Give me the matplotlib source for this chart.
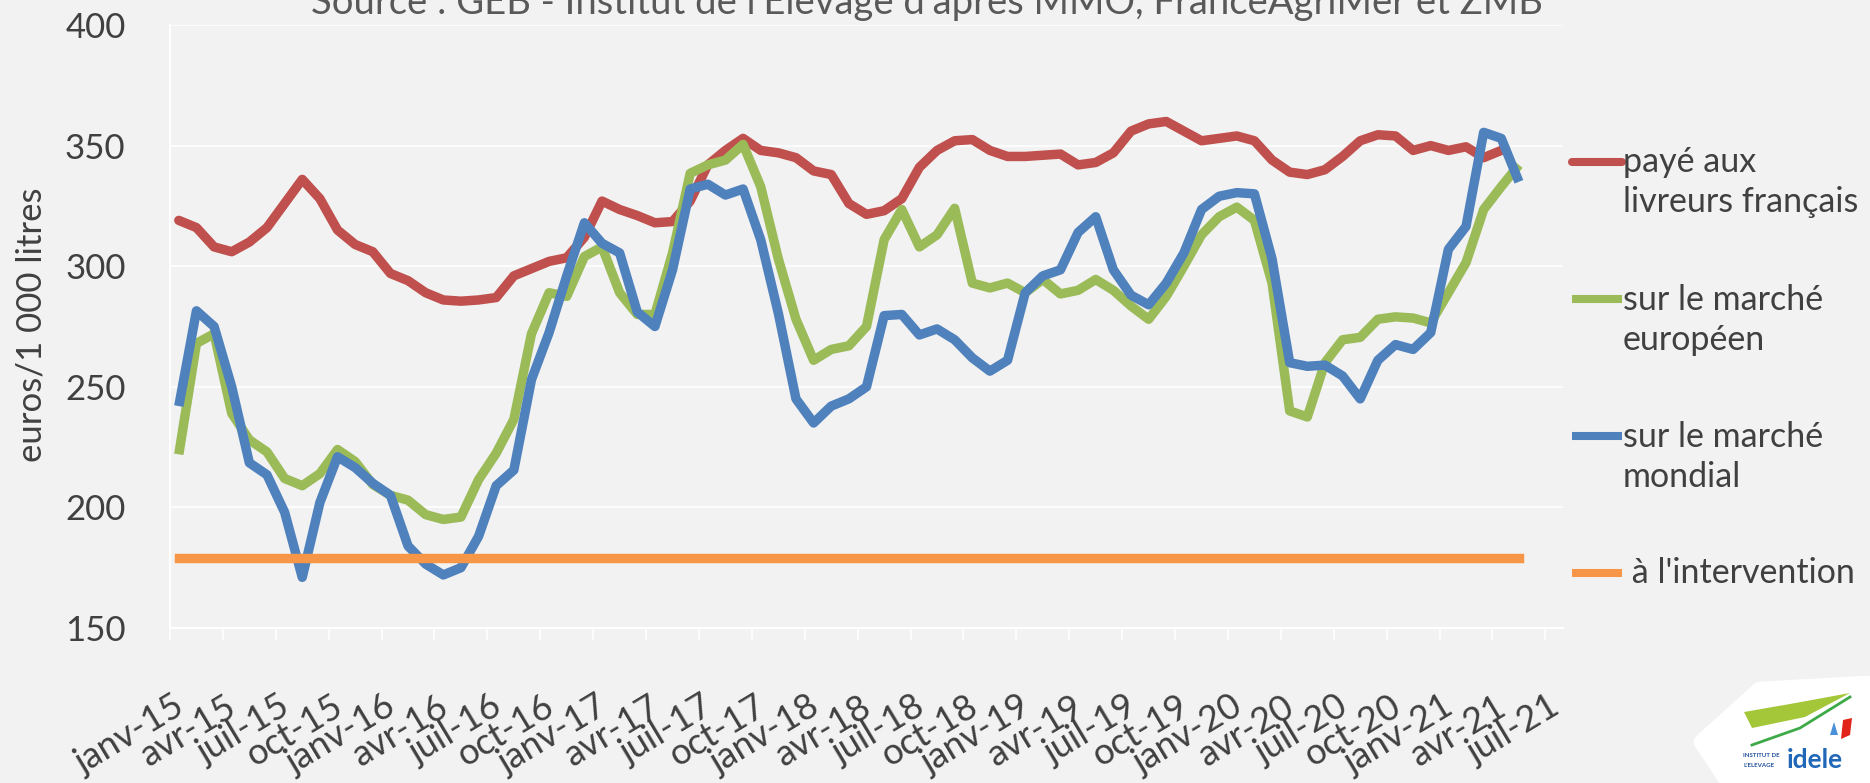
import numpy as np
import matplotlib
matplotlib.use("Agg")
import matplotlib.pyplot as plt
from matplotlib.lines import Line2D
from matplotlib.patches import Polygon
from matplotlib.transforms import ScaledTranslation

plt.rcParams["font.family"] = ["Lato", "DejaVu Sans"]

# monthly prices, euros / 1 000 litres, janv-15 .. mai-21
paye_livreurs = [319, 316, 308, 306, 310, 316, 326, 336, 328, 315, 309, 306, 297,
                 294, 289, 286, 285.5, 286, 287, 296, 299, 302, 303.5, 312, 327, 323.5,
                 321, 318, 318.5, 327, 342, 348, 353, 348, 347, 345, 339.5, 338, 326,
                 321.5, 323, 328, 341, 348, 352, 352.5, 348, 345.5, 345.5, 346, 346.5, 342,
                 343, 347, 356, 359, 360, 356, 352, 353, 354, 352, 344, 339, 338,
                 340, 345.5, 352, 354.5, 354, 348, 350, 348, 349.5, 345, 348, np.nan]
marche_europeen = [222, 268, 272, 239, 228, 223, 212, 209, 214, 224, 219, 209.5, 205,
                   203, 197, 195, 196, 211.5, 222.5, 236.5, 272, 289, 287.5, 304, 308, 289,
                   280, 280, 305.5, 338.5, 342, 344, 350.5, 333, 303, 278, 261, 265.5, 267,
                   275, 311, 323.5, 308, 313, 324, 293, 291, 293, 289, 294.5, 288.5, 290,
                   294.5, 290, 283.5, 278, 287.5, 300, 313, 320.5, 324.5, 319, 293, 240, 237.5,
                   260, 269.5, 270.5, 278, 279, 278.5, 276.5, 289, 301.5, 323.5, 333, 342]
marche_mondial = [242, 281.5, 275, 250, 218.5, 213.5, 198, 171, 202, 221, 216.5, 210, 205,
                  184, 176.5, 172, 175, 188, 209, 215.5, 253, 272.5, 296, 318, 309.5, 305.5,
                  281, 275, 298.5, 332, 334, 329.5, 332, 311, 280.5, 245, 235, 242, 245,
                  250, 279.5, 280, 271.5, 274, 269.5, 262, 256.5, 261, 289, 296, 298.5, 314,
                  320.5, 298.5, 288, 284, 293, 305.5, 323.5, 329, 330.5, 330, 303, 260, 258.5,
                  259, 254.5, 245, 261, 267.5, 265.5, 272.5, 307, 316.5, 355.5, 353, 335]
intervention = [179] * 77

tick_labels = ["janv-15", "avr-15", "juil-15", "oct-15", "janv-16", "avr-16", "juil-16",
               "oct-16", "janv-17", "avr-17", "juil-17", "oct-17", "janv-18", "avr-18",
               "juil-18", "oct-18", "janv-19", "avr-19", "juil-19", "oct-19", "janv-20",
               "avr-20", "juil-20", "oct-20", "janv-21", "avr-21", "juil-21"]
legend_labels = [["payé aux", "livreurs français"], ["sur le marché", "européen"],
                 ["sur le marché", "mondial"], [" à l'intervention"]]
source = "Source : GEB - Institut de l'Elevage d'après MMO, FranceAgriMer et ZMB"

W, H = 1870, 783
BG = "#F2F2F2"
TXT = "#404040"
colors = ["#C0504D", "#9BBB59", "#4F81BD", "#F79646"]


def fx(px):
    return px / W


def fy(py):
    return 1 - py / H


fig = plt.figure(figsize=(W / 100, H / 100), dpi=100, facecolor=BG)
ax = fig.add_axes([fx(170), fy(628), (1563 - 170) / W, (628 - 25) / H])
ax.set_facecolor(BG)

x = np.arange(len(marche_mondial)) + 0.5
lw = 6.8
ax.plot(x, paye_livreurs, color=colors[0], lw=lw, solid_capstyle="round", solid_joinstyle="round")
ax.plot(x, marche_europeen, color=colors[1], lw=lw, solid_capstyle="butt", solid_joinstyle="round")
ax.plot(x, marche_mondial, color=colors[2], lw=lw, solid_capstyle="butt", solid_joinstyle="round")
ax.plot(x, intervention, color=colors[3], lw=lw, solid_capstyle="projecting")

ax.set_xlim(0, 79)
ax.set_ylim(150, 400)
ax.set_yticks(np.arange(150, 401, 50))
ax.yaxis.grid(True, color="white", lw=1.2)
ax.set_axisbelow(True)
for s in ["top", "right"]:
    ax.spines[s].set_visible(False)
for s in ["left", "bottom"]:
    ax.spines[s].set_color("white")
    ax.spines[s].set_linewidth(1.5)

ax.tick_params(axis="y", length=0, pad=32, labelsize=25, labelcolor=TXT)
ax.tick_params(axis="x", length=8.6, width=1.2, color="white", direction="out",
               pad=46, labelsize=26, labelcolor=TXT)
ax.set_xticks(np.arange(0, 79, 3))
ax.set_xticklabels(tick_labels, rotation=31, ha="right", va="center", rotation_mode="anchor")
shift = ScaledTranslation(11 / 100, 0, fig.dpi_scale_trans)
for lbl in ax.get_xticklabels():
    lbl.set_transform(lbl.get_transform() + shift)

fig.text(fx(32), fy(325), "euros/1 000 litres", rotation=90, ha="center", va="center",
         fontsize=25, color=TXT)
fig.text(fx(927), fy(14), source, ha="center", va="baseline", fontsize=27.5, color="#595959")

# legend, drawn by hand so the key sits on the first text line
handle_y = [162, 299, 436, 573]
base_y = [[172, 212], [310, 350], [447, 487], [583]]
for c, y0, lines, bases in zip(colors, handle_y, legend_labels, base_y):
    cap = "round" if c == colors[0] else "butt"
    fig.add_artist(Line2D([fx(1572), fx(1622)], [fy(y0), fy(y0)], color=c, lw=5.8,
                          solid_capstyle=cap))
    for txt, b in zip(lines, bases):
        fig.text(fx(1623), fy(b), txt, ha="left", va="baseline", fontsize=24.5, color=TXT)

# idele logo, rough
pts = [(1702, 742), (1760, 690), (1868, 684), (1868, 781), (1728, 781)]
fig.add_artist(Polygon([(fx(a), fy(b)) for a, b in pts], closed=True, facecolor="white",
                       edgecolor="white", lw=12, joinstyle="round"))
swoosh = [(1744, 712), (1790, 704), (1850, 693), (1805, 717), (1752, 728)]
fig.add_artist(Polygon([(fx(a), fy(b)) for a, b in swoosh], closed=True,
                       facecolor="#A4C639", edgecolor="none"))
fig.add_artist(Line2D([fx(1752), fx(1800), fx(1850)], [fy(745), fy(728), fy(697)],
                      color="#3DAA47", lw=2))
red_flag = [(1843, 720), (1852, 718), (1850, 735), (1841, 739)]
fig.add_artist(Polygon([(fx(a), fy(b)) for a, b in red_flag], closed=True,
                       facecolor="#E2231A", edgecolor="none"))
fig.add_artist(Polygon([(fx(a), fy(b)) for a, b in [(1834, 722), (1838, 735), (1830, 735)]],
                       closed=True, facecolor="#4A90D9", edgecolor="none"))
fig.text(fx(1743), fy(757), "INSTITUT DE", fontsize=4.4, fontweight="bold", color="#1F4E9C")
fig.text(fx(1743), fy(767), "L'ELEVAGE", fontsize=4.4, fontweight="bold", color="#1F4E9C")
fig.text(fx(1787), fy(768), "idele", fontsize=19, fontweight="bold", color="#2067B8")

fig.savefig("out.png", dpi=100, facecolor=BG)
